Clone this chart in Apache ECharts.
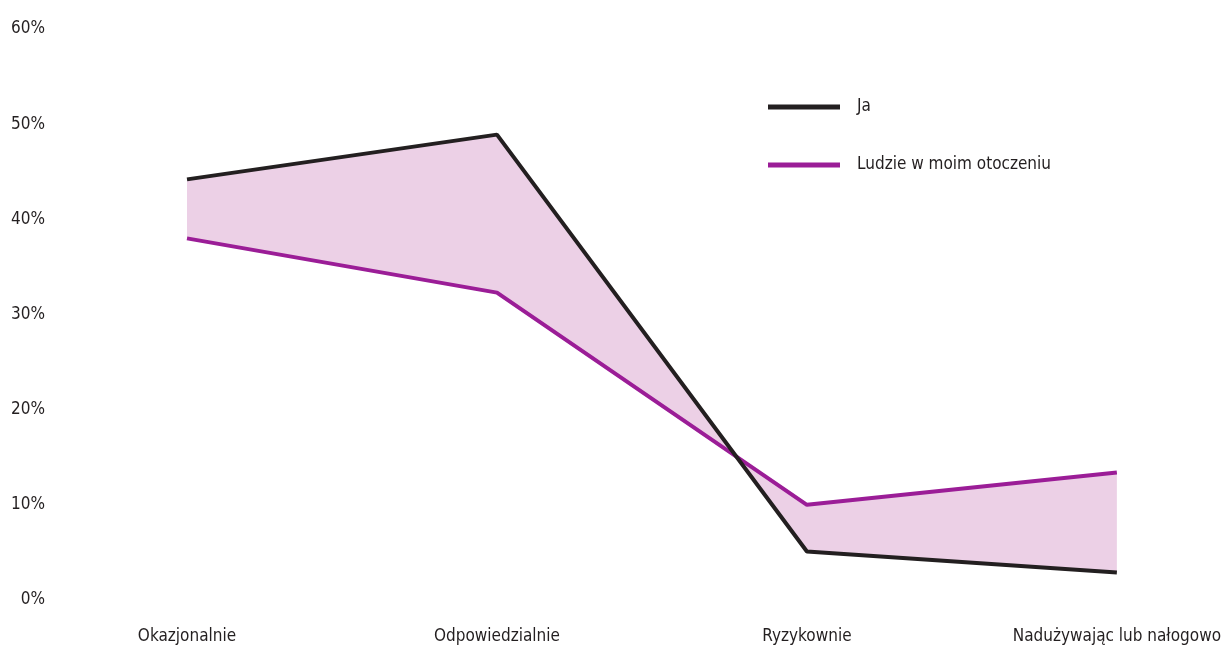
<!DOCTYPE html>
<html><head><meta charset="utf-8">
<script src="https://cdn.jsdelivr.net/npm/echarts@6/dist/echarts.min.js"></script>
<style>html,body{margin:0;padding:0;background:#fff}#c{width:1224px;height:646px}</style>
</head><body><div id="c"></div>
<script>
const categories = ['Okazjonalnie', 'Odpowiedzialnie', 'Ryzykownie', 'Nadużywając lub nałogowo'];
const ja = [44.2, 48.9, 5.1, 2.9];
const ludzie = [38.0, 32.3, 10.0, 13.4];
const yTicks = [0, 10, 20, 30, 40, 50, 60];

const FONT = '"Liberation Sans Narrow", "DejaVu Sans Condensed", "Liberation Sans", sans-serif';
const TXT = '#231f20';
const chart = echarts.init(document.getElementById('c'));
chart.setOption({
  animation: false,
  grid: { left: 187, right: 106, top: 29, bottom: 46 },
  legend: {
    orient: 'vertical', left: 763, top: 92, itemWidth: 72, itemHeight: 5, itemGap: 38,
    icon: 'rect',
    textStyle: { fontFamily: FONT, fontSize: 17, lineHeight: 20, color: TXT, padding: [0, 0, 0, 12] },
    data: ['Ja', 'Ludzie w moim otoczeniu']
  },
  xAxis: {
    type: 'category', data: categories, boundaryGap: false,
    axisLine: { show: false }, axisTick: { show: false }, splitLine: { show: false },
    axisLabel: { fontFamily: FONT, fontSize: 17, color: TXT, margin: 28 }
  },
  yAxis: {
    type: 'value', min: yTicks[0], max: yTicks[yTicks.length - 1], interval: 10,
    axisLine: { show: false }, axisTick: { show: false }, splitLine: { show: false },
    axisLabel: { fontFamily: FONT, fontSize: 17, color: TXT, margin: 142, formatter: '{value}%' }
  },
  series: [
    {
      type: 'custom', silent: true, z: 1,
      data: [0],
      renderItem: function (params, api) {
        const pts = [];
        for (let i = 0; i < categories.length; i++) pts.push(api.coord([i, ja[i]]));
        for (let i = categories.length - 1; i >= 0; i--) pts.push(api.coord([i, ludzie[i]]));
        return { type: 'polygon', shape: { points: pts }, style: { fill: '#ecd0e6', stroke: null } };
      }
    },
    {
      name: 'Ja', type: 'line', data: ja, symbol: 'none', z: 3,
      lineStyle: { color: '#231f20', width: 4 }, itemStyle: { color: '#231f20' }
    },
    {
      name: 'Ludzie w moim otoczeniu', type: 'line', data: ludzie, symbol: 'none', z: 2,
      lineStyle: { color: '#9b1d97', width: 4 }, itemStyle: { color: '#9b1d97' }
    }
  ]
});
</script></body></html>
